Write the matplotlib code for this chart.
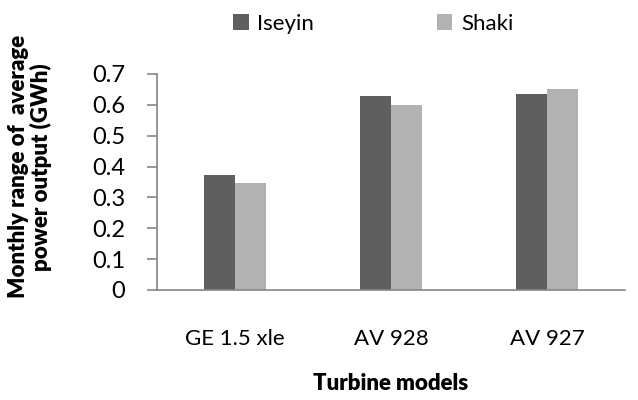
import matplotlib
matplotlib.use('Agg')
import matplotlib.pyplot as plt
import numpy as np

plt.rcParams['font.family'] = ['Lato', 'DejaVu Sans']

models = ['GE 1.5 xle', 'AV 928', 'AV 927']
iseyin = [0.373, 0.630, 0.635]
shaki = [0.348, 0.600, 0.650]
yticks = [0, 0.1, 0.2, 0.3, 0.4, 0.5, 0.6, 0.7]

fig = plt.figure(figsize=(6.38, 4.0), dpi=100)
ax = fig.add_axes([0.246, 0.275, 0.734, 0.54])

x = np.arange(len(models))
w = 0.2
ax.bar(x - w / 2, iseyin, w, color='#5f5f5f', label='Iseyin')
ax.bar(x + w / 2, shaki, w, color='#b2b2b2', label='Shaki')

ax.set_xlim(-0.5, 2.5)
ax.set_ylim(0, 0.7)
ax.set_yticks(yticks)
ax.set_yticklabels(['0' if t == 0 else f'{t:.1f}' for t in yticks])
ax.set_xticks(x)
ax.set_xticklabels(models)

for s in ['top', 'right']:
    ax.spines[s].set_visible(False)
for s in ['left', 'bottom']:
    ax.spines[s].set_color('#868686')
    ax.spines[s].set_linewidth(1.2)
ax.tick_params(axis='y', colors='#868686', labelcolor='black', labelsize=17,
               length=7, width=1.2, direction='out', pad=16)
ax.tick_params(axis='x', length=0, labelsize=16, pad=28)

ax.set_ylabel('Monthly range of  average\npower output (GWh)', fontsize=16,
              fontweight='heavy', linespacing=1.05)
ax.yaxis.set_label_coords(-0.225, 0.57)
ax.set_xlabel('Turbine models', fontsize=16, fontweight='heavy')
ax.xaxis.set_label_coords(0.5, -0.385)

fig.legend(loc='upper center', bbox_to_anchor=(0.585, 1.015), ncol=2,
           frameon=False, fontsize=16, handlelength=0.7, handleheight=0.7,
           handletextpad=0.4, columnspacing=5.5)

plt.savefig('out.png', dpi=100)
